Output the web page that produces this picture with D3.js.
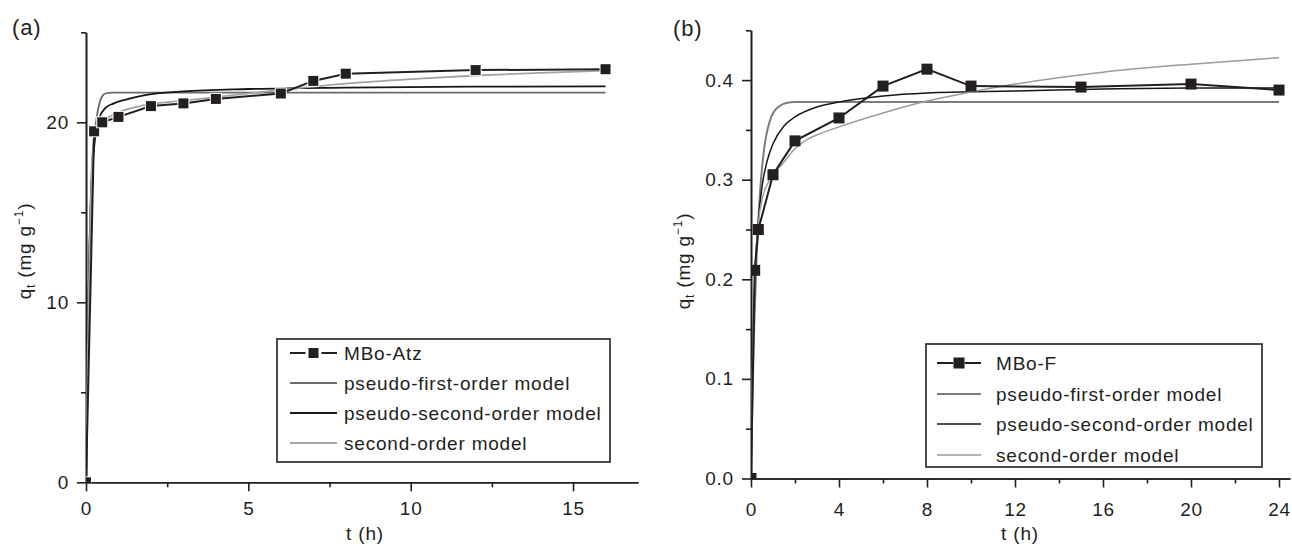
<!DOCTYPE html>
<html><head><meta charset="utf-8">
<script src="https://cdn.jsdelivr.net/npm/d3@7/dist/d3.min.js"></script>
<style>
html,body{margin:0;padding:0;background:#fff;}
svg text{font-family:"Liberation Sans",Arial,Helvetica,sans-serif;fill:#231f20;letter-spacing:0.8px;}
</style></head>
<body>
<svg id="c" width="1292" height="547"></svg>
<script>
// ---------- Panel (a) data ----------
const tA = [0, 0.25, 0.5, 1, 2, 3, 4, 6, 7, 8, 12, 16];
const qA = [0, 19.5, 20.0, 20.3, 20.9, 21.05, 21.3, 21.6, 22.3, 22.7, 22.9, 22.95];
const pfoA_t = [0, 0.05, 0.1, 0.15, 0.2, 0.25, 0.3, 0.35, 0.42, 0.5, 0.6, 0.8, 1.2, 16];
const pfoA_q = [0, 7, 12.5, 16.0, 18.0, 19.0, 19.9, 20.5, 21.1, 21.45, 21.6, 21.65, 21.65, 21.65];
const psoA_t = [0, 0.03, 0.07, 0.12, 0.17, 0.22, 0.3, 0.4, 0.6, 0.86, 1.2, 1.78, 3, 5, 8, 12, 16];
const psoA_q = [0, 5, 10, 14, 16.5, 18.0, 19.4, 20.2, 20.8, 21.05, 21.25, 21.5, 21.72, 21.85, 21.93, 21.98, 22.0];
const soA_t = [0, 0.04, 0.08, 0.13, 0.18, 0.25, 0.4, 0.6, 1, 1.8, 3, 4, 6, 8, 10, 12, 14, 16];
const soA_q = [0, 5, 10, 14.5, 17.5, 19.2, 19.8, 20.15, 20.55, 20.95, 21.2, 21.4, 21.8, 22.15, 22.4, 22.6, 22.75, 22.87];
const xTicksA = [0, 5, 10, 15], xMinorA = [2.5, 7.5, 12.5];
const yTicksA = [0, 10, 20], yMinorA = [5, 15, 25];

// ---------- Panel (b) data ----------
const tB = [0, 0.167, 0.333, 1, 2, 4, 6, 8, 10, 15, 20, 24];
const qB = [0, 0.209, 0.250, 0.305, 0.339, 0.362, 0.394, 0.411, 0.394, 0.393, 0.396, 0.390];
const pfoB_t = [0, 0.05, 0.1, 0.15, 0.25, 0.4, 0.5, 0.62, 0.77, 0.92, 1.1, 1.3, 1.6, 2, 3, 24];
const pfoB_q = [0, 0.061, 0.112, 0.154, 0.220, 0.284, 0.312, 0.335, 0.352, 0.363, 0.370, 0.374, 0.377, 0.378, 0.378, 0.378];
const psoB_t = [0, 0.05, 0.1, 0.2, 0.3, 0.5, 0.75, 1, 1.5, 2, 3, 4, 6, 8, 12, 16, 20, 24];
const psoB_q = [0, 0.088, 0.144, 0.211, 0.250, 0.293, 0.320, 0.336, 0.354, 0.363, 0.373, 0.378, 0.384, 0.387, 0.389, 0.391, 0.392, 0.392];
const soB_t = [0, 0.05, 0.1, 0.2, 0.35, 0.5, 0.86, 1.4, 2, 2.6, 3, 4, 6, 8, 10, 12, 16, 20, 24];
const soB_q = [0, 0.09, 0.15, 0.215, 0.26, 0.28, 0.30, 0.315, 0.331, 0.341, 0.345, 0.353, 0.367, 0.379, 0.388, 0.396, 0.408, 0.416, 0.4225];
const xTicksB = [0, 4, 8, 12, 16, 20, 24], xMinorB = [2, 6, 10, 14, 18, 22];
const yTicksB = [0, 0.1, 0.2, 0.3, 0.4], yMinorB = [0.05, 0.15, 0.25, 0.35, 0.45];

const legendA = ["MBo-Atz", "pseudo-first-order model", "pseudo-second-order model", "second-order model"];
const legendB = ["MBo-F", "pseudo-first-order model", "pseudo-second-order model", "second-order model"];

const INK = "#231f20";
const svg = d3.select("#c");
const zip = (t, q) => t.map((v, i) => [v, q[i]]);

function panel(o) {
  const x = d3.scaleLinear().domain(o.xDom).range(o.xRange);
  const y = d3.scaleLinear().domain(o.yDom).range(o.yRange);
  const g = svg.append("g");
  const clipId = "clip" + o.id;
  svg.append("defs").append("clipPath").attr("id", clipId).append("rect")
    .attr("x", o.xRange[0]).attr("y", o.yRange[1] - 10)
    .attr("width", o.xRange[1] - o.xRange[0] + 10).attr("height", o.yRange[0] - o.yRange[1] + 10);

  // axes
  const yAx = g.append("g").attr("transform", `translate(${o.xRange[0]},0)`)
    .call(d3.axisLeft(y).tickValues(o.yTicks).tickSize(9).tickSizeOuter(0).tickPadding(o.yPad).tickFormat(o.yFmt));
  g.append("g").attr("transform", `translate(${o.xRange[0]},0)`)
    .call(d3.axisLeft(y).tickValues(o.yMinor).tickSize(5).tickSizeOuter(0).tickFormat(""));
  const xAx = g.append("g").attr("transform", `translate(0,${o.yRange[0]})`)
    .call(d3.axisBottom(x).tickValues(o.xTicks).tickSize(9).tickSizeOuter(0).tickPadding(o.xPad));
  g.append("g").attr("transform", `translate(0,${o.yRange[0]})`)
    .call(d3.axisBottom(x).tickValues(o.xMinor).tickSize(5).tickSizeOuter(0).tickFormat(""));
  g.selectAll(".domain").attr("stroke", INK).attr("stroke-width", 1.6);
  g.selectAll(".tick line").attr("stroke", INK).attr("stroke-width", 1.6);
  g.selectAll(".tick text").style("font-size", "19px").attr("fill", INK);

  // curves
  const line = d3.line().x(d => x(d[0])).y(d => y(d[1])).curve(d3.curveMonotoneX);
  const pl = g.append("g").attr("clip-path", `url(#${clipId})`);
  o.models.forEach(m => {
    pl.append("path").attr("d", line(zip(m.t, m.q))).attr("fill", "none")
      .attr("stroke", m.color).attr("stroke-width", m.w);
  });
  const lin = d3.line().x(d => x(d[0])).y(d => y(d[1]));
  pl.append("path").attr("d", lin(zip(o.dt, o.dq))).attr("fill", "none")
    .attr("stroke", INK).attr("stroke-width", 2);
  const s = o.ms;
  pl.selectAll("rect.m").data(zip(o.dt, o.dq)).join("rect").attr("class", "m")
    .attr("x", d => x(d[0]) - s / 2).attr("y", d => y(d[1]) - s / 2)
    .attr("width", s).attr("height", s).attr("fill", INK)
    .attr("stroke", o.gap ? "#fff" : "none").attr("stroke-width", o.gap ? 2 : 0)
    .attr("paint-order", "stroke");

  // labels
  svg.append("text").attr("x", o.xLabel[0]).attr("y", o.xLabel[1]).attr("text-anchor", "middle")
    .style("font-size", "19px").text("t (h)");
  const yl = svg.append("text").attr("transform", `translate(${o.yLabel[0]},${o.yLabel[1]}) rotate(-90)`)
    .attr("text-anchor", "middle").style("font-size", "19px");
  yl.append("tspan").text("q");
  yl.append("tspan").attr("dy", 4).style("font-size", "12px").text("t");
  yl.append("tspan").attr("dy", -4).text(" (mg g");
  yl.append("tspan").attr("dy", -8).style("font-size", "12px").text("\u22121");
  yl.append("tspan").attr("dy", 8).text(")");
  svg.append("text").attr("x", o.tag[0]).attr("y", o.tag[1]).style("font-size", "22px").text(o.tagText);

  // legend
  const L = o.leg;
  svg.append("rect").attr("x", L.x0).attr("y", L.y0).attr("width", L.x1 - L.x0).attr("height", L.y1 - L.y0)
    .attr("fill", "#fff").attr("stroke", INK).attr("stroke-width", 1.6);
  const items = [{color: INK, w: 2, marker: true}].concat(o.models.map(m => ({color: m.color, w: m.legW || m.w})));
  items.forEach((it, i) => {
    const yy = L.rows[i];
    if (it.marker) {
      const mx = (L.lx0 + L.lx1) / 2;
      const gp = o.gap ? 3 : 0;
      svg.append("line").attr("x1", L.lx0).attr("x2", mx - s / 2 - gp).attr("y1", yy).attr("y2", yy)
        .attr("stroke", INK).attr("stroke-width", 2);
      svg.append("line").attr("x1", mx + s / 2 + gp).attr("x2", L.lx1).attr("y1", yy).attr("y2", yy)
        .attr("stroke", INK).attr("stroke-width", 2);
      svg.append("rect").attr("x", mx - s / 2).attr("y", yy - s / 2).attr("width", s).attr("height", s).attr("fill", INK);
    } else {
      svg.append("line").attr("x1", L.lx0).attr("x2", L.lx1).attr("y1", yy).attr("y2", yy)
        .attr("stroke", it.color).attr("stroke-width", it.w);
    }
    svg.append("text").attr("x", L.tx).attr("y", yy + 7).style("font-size", "19px").text(o.legText[i]);
  });
}

panel({
  id: "a", xDom: [0, 17], xRange: [86, 638], yDom: [0, 25], yRange: [482.3, 32.3],
  xTicks: xTicksA, xMinor: xMinorA, yTicks: yTicksA, yMinor: yMinorA, yFmt: d3.format("d"),
  yPad: 8, xPad: 10,
  dt: tA, dq: qA, ms: 10, gap: true,
  models: [
    {t: pfoA_t, q: pfoA_q, color: "#6a6a6a", w: 1.8},
    {t: psoA_t, q: psoA_q, color: "#1a1718", w: 1.8},
    {t: soA_t, q: soA_q, color: "#a3a3a3", w: 1.8}
  ],
  xLabel: [365, 540], yLabel: [31, 251], tag: [12, 35], tagText: "(a)",
  leg: {x0: 277, x1: 610, y0: 339, y1: 462, rows: [353, 383, 413, 443], lx0: 290, lx1: 337, tx: 344},
  legText: legendA
});

panel({
  id: "b", xDom: [0, 24.5], xRange: [751, 1290], yDom: [0, 0.45], yRange: [478.5, 30.3],
  xTicks: xTicksB, xMinor: xMinorB, yTicks: yTicksB, yMinor: yMinorB, yFmt: d3.format(".1f"),
  yPad: 8, xPad: 15,
  dt: tB, dq: qB, ms: 11, gap: false,
  models: [
    {t: pfoB_t, q: pfoB_q, color: "#7d7d7d", w: 2},
    {t: psoB_t, q: psoB_q, color: "#1a1718", w: 1.5},
    {t: soB_t, q: soB_q, color: "#9c9c9c", w: 1.5}
  ],
  xLabel: [1020, 540], yLabel: [690, 261], tag: [673, 36], tagText: "(b)",
  leg: {x0: 926, x1: 1262, y0: 344, y1: 467, rows: [363, 394, 424, 455], lx0: 937, lx1: 981, tx: 996},
  legText: legendB
});
</script>
</body></html>
